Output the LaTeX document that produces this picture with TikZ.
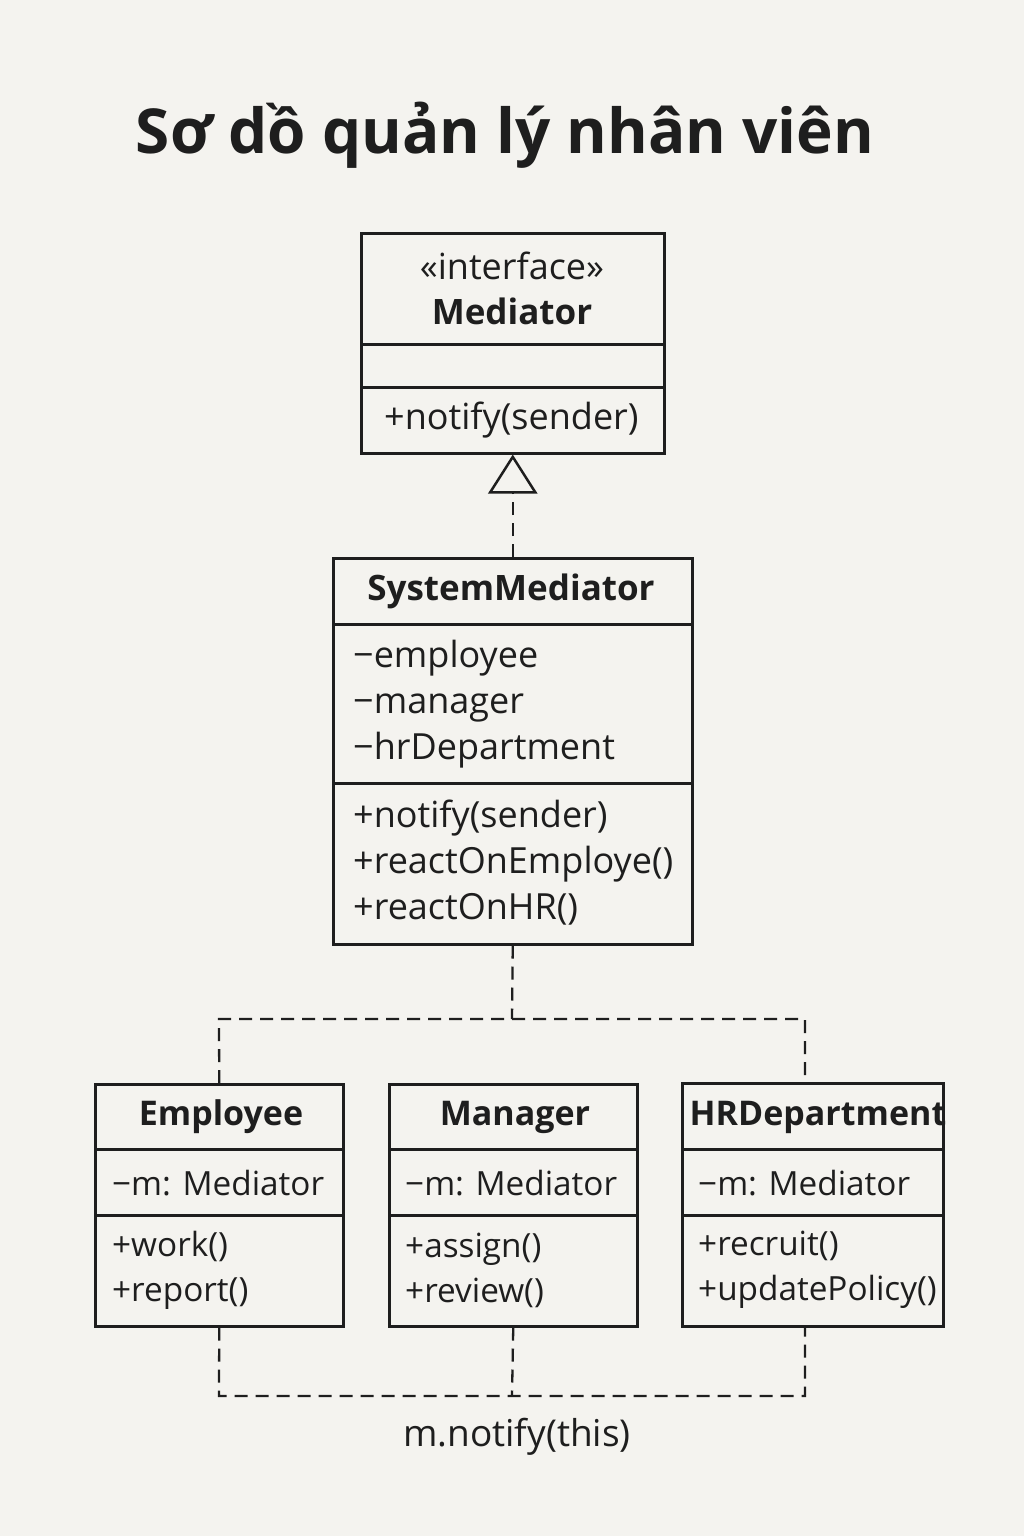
\documentclass[tikz,border=0pt]{standalone}
\usepackage{fontspec}
\setmainfont{Open Sans}
\usetikzlibrary{arrows.meta}
\definecolor{bg}{HTML}{F4F3EF}
\definecolor{ink}{HTML}{1E1E1E}
\begin{document}
\begin{tikzpicture}[x=1pt,y=-1pt,
  box/.style={draw=ink, line width=2.5pt, anchor=north west, inner sep=0pt},
  txt/.style={text=ink, font=\fontsize{36}{46}\selectfont, inner sep=0pt},
  stxt/.style={text=ink, font=\fontsize{33.3}{45}\selectfont, inner sep=0pt, anchor=west, align=left},
  ltxt/.style={txt, anchor=west, align=left},
  ttl/.style={text=ink, font=\fontsize{35}{46}\selectfont\bfseries, inner sep=0pt},
  sttl/.style={text=ink, font=\fontsize{34}{46}\selectfont\bfseries, inner sep=0pt},
  dashline/.style={draw=ink, line width=2.3pt, dash pattern=on 13pt off 8pt}
]
\fill[bg] (0,0) rectangle (1024,1536);
\useasboundingbox (0,0) rectangle (1024,1536);

\node[text=ink, font=\fontsize{62}{70}\selectfont\bfseries] (title) at (505,135) {Sơ dồ quản lý nhân viên};

% Mediator
\node[box, minimum width=303pt, minimum height=111pt] (medA) at (360,232) {};
\node[box, minimum width=303pt, minimum height=43pt] (medB) at (360,343) {};
\node[box, minimum width=303pt, minimum height=66pt] (medC) at (360,386) {};
\node[txt] (medS) at (512,266) {«interface»};
\node[ttl] (medN) at (512,311) {Mediator};
\node[ltxt] (medM) at (384,420) {+notify(sender)};

% SystemMediator
\node[box, minimum width=359pt, minimum height=66pt] (sysA) at (332,557) {};
\node[box, minimum width=359pt, minimum height=159pt] (sysB) at (332,623) {};
\node[box, minimum width=359pt, minimum height=161pt] (sysC) at (332,782) {};
\node[ttl] (sysN) at (511,591) {SystemMediator};
\node[ltxt] (sysAt) at (353,704) {−employee\\−manager\\−hrDepartment};
\node[ltxt] (sysMe) at (353,863) {+notify(sender)\\+reactOnEmploye()\\+reactOnHR()};

% Employee
\node[box, minimum width=248pt, minimum height=65pt] (empA) at (94,1083) {};
\node[box, minimum width=248pt, minimum height=66pt] (empB) at (94,1148) {};
\node[box, minimum width=248pt, minimum height=111pt] (empC) at (94,1214) {};
\node[sttl] (empN) at (221,1117) {Employee};
\node[stxt] (empAt) at (112,1183) {−m: Mediator};
\node[stxt] (empMe) at (112,1270) {+work()\\+report()};

% Manager
\node[box, minimum width=248pt, minimum height=65pt] (manA) at (388,1083) {};
\node[box, minimum width=248pt, minimum height=66pt] (manB) at (388,1148) {};
\node[box, minimum width=248pt, minimum height=111pt] (manC) at (388,1214) {};
\node[sttl] (manN) at (515,1117) {Manager};
\node[stxt] (manAt) at (405,1183) {−m: Mediator};
\node[stxt] (manMe) at (405,1270) {+assign()\\+review()};

% HRDepartment
\node[box, minimum width=261pt, minimum height=66pt] (hrA) at (681,1082) {};
\node[box, minimum width=261pt, minimum height=66pt] (hrB) at (681,1148) {};
\node[box, minimum width=261pt, minimum height=111pt] (hrC) at (681,1214) {};
\node[sttl] (hrN) at (818,1117) {HRDepartment};
\node[stxt] (hrAt) at (698,1183) {−m: Mediator};
\node[stxt] (hrMe) at (698,1270) {+recruit()\\+updatePolicy()};

% realization
\draw[dashline, -{Triangle[open, length=39pt, width=49pt, line width=2.5pt]}] (sysA.north) -- (medC.south);

% junctions
\coordinate (jt) at (512,1019);
\coordinate (jl) at (219,1019);
\coordinate (jr) at (805,1019);
\coordinate (bl) at (219,1396);
\coordinate (bm) at (512,1396);
\coordinate (br) at (805,1396);

\draw[dashline] (sysC.south) -- (jt);
\draw[dashline] (empA.north) -- (jl) -- (jr) -- (jr |- hrA.north);
\draw[dashline] (empC.south) -- (bl) -- (br) -- (br |- hrC.south);
\draw[dashline] (manC.south) -- (bm);

\node[text=ink, font=\fontsize{37}{44}\selectfont, inner sep=0pt] (lbl) at (517,1437) {m.notify(this)};
\end{tikzpicture}
\end{document}
